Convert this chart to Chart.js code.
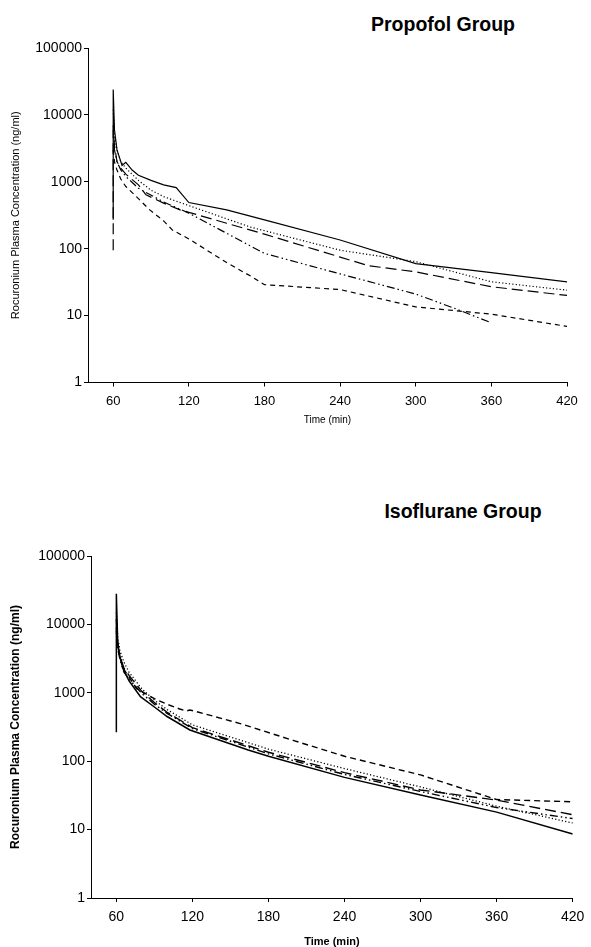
<!DOCTYPE html>
<html>
<head>
<meta charset="utf-8">
<script src="https://cdn.jsdelivr.net/npm/chart.js@4.4.1/dist/chart.umd.min.js"></script>
<style>
  html, body { margin:0; padding:0; background:#fff; width:591px; height:947px; overflow:hidden; }
  .wrap { position:absolute; left:0; width:591px; }
  .title { position:absolute; font-family:"Liberation Sans", Arial, sans-serif; font-weight:bold; font-size:19.5px; color:#000; transform:translate(-50%,-50%); white-space:nowrap; }
</style>
</head>
<body>
<div class="title" style="left:443px; top:24px;">Propofol Group</div>
<div class="title" style="left:463px; top:511px;">Isoflurane Group</div>
<div class="wrap" style="top:0; height:440px;"><canvas id="c1" width="591" height="440"></canvas></div>
<div class="wrap" style="top:440px; height:520px;"><canvas id="c2" width="591" height="520"></canvas></div>
<script>
// ---- tick labels ----
const yTickValues = [1, 10, 100, 1000, 10000, 100000];
const xTickValues = [60, 120, 180, 240, 300, 360, 420];
const xRange = [40, 420];

// ---- Propofol group: [time (min), concentration (ng/ml)] ----
const propSolid = [[60,270],[60,24000],[61,6000],[63,3000],[65,2300],[67,1750],[70,1950],[75,1500],[80,1250],[90,1050],[100,900],[110,820],[113,700],[120,490],[150,380],[180,270],[240,135],[300,60],[360,44],[420,32]];
const propDotted = [[60,12000],[61,5000],[63,3000],[66,2000],[70,1600],[80,1050],[90,750],[100,600],[120,440],[169,210],[240,95],[300,64],[360,32],[420,24]];
const propLongDash = [[60,95],[60,6000],[61,3500],[63,2000],[66,1600],[70,1300],[80,900],[86,640],[100,480],[113,380],[120,350],[150,240],[180,165],[240,75],[262,56],[300,45],[360,27],[420,20]];
const propDashDot = [[60,7000],[61,3000],[63,2000],[66,1500],[70,1200],[80,800],[100,500],[120,340],[150,170],[180,85],[240,42],[300,21],[330,13],[360,7.8]];
const propShortDash = [[60,3000],[61,2000],[63,1500],[66,1100],[70,850],[80,560],[89,380],[100,260],[107,190],[120,140],[150,62],[170,38],[180,29],[240,24.5],[300,13.5],[360,10.5],[420,6.9]];

// ---- Isoflurane group ----
const isoSolid = [[60,265],[60,28000],[61,6000],[62,4000],[65,2300],[70,1500],[79,880],[90,620],[100,450],[118,286],[164,146],[180,118],[240,58],[300,32],[360,18],[420,8.6]];
const isoShortDash = [[60,12000],[61,5000],[63,3200],[66,2200],[70,1700],[76,1150],[90,820],[100,680],[110,580],[115,540],[118,560],[125,520],[157,358],[200,200],[240,118],[300,63],[360,27.5],[420,25.5]];
const isoDotted = [[60,15000],[61,6500],[63,4000],[66,2800],[70,2000],[80,1150],[90,780],[100,570],[120,340],[180,150],[240,78],[300,42],[360,22],[420,12.5]];
const isoLongDash = [[60,9000],[61,5000],[63,3300],[66,2300],[70,1800],[80,1050],[90,720],[100,520],[120,310],[180,135],[240,68],[300,38],[360,27],[420,16.5]];
const isoDashDot = [[60,8000],[61,4500],[63,3000],[66,2000],[70,1600],[80,980],[90,680],[100,500],[120,300],[180,128],[240,64],[300,36],[360,21],[420,14.5]];

const FONT = '"Liberation Sans", Arial, sans-serif';
const toPts = arr => arr.map(p => ({x: p[0], y: p[1]}));

function ds(data, dash, w) {
  return { data: toPts(data), borderColor: '#000', borderWidth: w, borderDash: dash,
           pointRadius: 0, fill: false, tension: 0 };
}

function makeChart(id, series, cfg) {
  new Chart(document.getElementById(id), {
    type: 'line',
    data: { datasets: series },
    options: {
      responsive: false, animation: false, events: [],
      layout: { padding: { top: cfg.padTop, right: cfg.padRight, left: 0, bottom: 0 } },
      plugins: { legend: { display: false }, tooltip: { enabled: false } },
      scales: {
        x: {
          type: 'linear', min: xRange[0], max: xRange[1],
          afterBuildTicks: s => { s.ticks = xTickValues.map(v => ({ value: v })); },
          afterFit: s => { s.height = cfg.xHeight; },
          grid: { display: true, drawOnChartArea: false, tickLength: 4, color: '#000', tickWidth: 1 },
          border: { display: true, color: '#000', width: 1 },
          ticks: { color: '#000', padding: cfg.xTickPad, maxRotation: 0, autoSkip: false,
                   font: { family: FONT, size: cfg.xTickSize }, callback: v => String(v) },
          title: { display: true, text: 'Time (min)', color: '#000',
                   font: { family: FONT, size: cfg.xTitleSize, weight: cfg.titleWeight },
                   padding: { top: 0, bottom: cfg.xTitlePadBottom } }
        },
        y: {
          type: 'logarithmic', min: 1, max: 100000,
          afterBuildTicks: s => { s.ticks = yTickValues.map(v => ({ value: v })); },
          afterFit: s => { s.width = cfg.yWidth; },
          grid: { display: true, drawOnChartArea: false, tickLength: 4, color: '#000', tickWidth: 1 },
          border: { display: true, color: '#000', width: 1 },
          ticks: { color: '#000', padding: 2, autoSkip: false,
                   font: { family: FONT, size: cfg.yTickSize }, callback: v => String(v) },
          title: { display: true, text: 'Rocuronium Plasma Concentration (ng/ml)', color: '#000',
                   font: { family: FONT, size: cfg.yTitleSize, weight: cfg.titleWeight },
                   padding: { top: cfg.yTitlePadTop, bottom: 0 } }
        }
      }
    }
  });
}

makeChart('c1', [
  ds(propSolid, [], 1.2),
  ds(propDotted, [1.2, 2.2], 1.2),
  ds(propLongDash, [11, 5], 1.2),
  ds(propDashDot, [8, 3, 1.5, 3, 1.5, 3], 1.2),
  ds(propShortDash, [5, 4], 1.2)
], { padTop: 48, padRight: 24, xHeight: 57.5, yWidth: 88, xTickSize: 13, yTickSize: 14, xTickPad: 7,
     xTitleSize: 10, yTitleSize: 11, titleWeight: 'normal', xTitlePadBottom: 13.5, yTitlePadTop: 9 });

makeChart('c2', [
  ds(isoSolid, [], 1.5),
  ds(isoDotted, [1.2, 2.2], 1.3),
  ds(isoLongDash, [11, 5], 1.4),
  ds(isoDashDot, [8, 3, 1.5, 3, 1.5, 3], 1.4),
  ds(isoShortDash, [6, 4], 1.4)
], { padTop: 116, padRight: 11, xHeight: 62, yWidth: 91, xTickSize: 14, yTickSize: 14, xTickPad: 6.6,
     xTitleSize: 11, yTitleSize: 12, titleWeight: 'bold', xTitlePadBottom: 11.4, yTitlePadTop: 8.8 });
</script>
</body>
</html>
